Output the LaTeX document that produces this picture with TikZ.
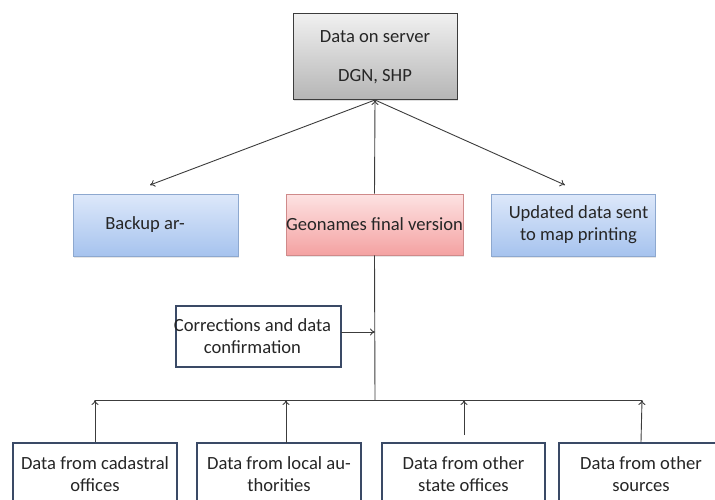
\documentclass[tikz,border=0pt]{standalone}
\usepackage{fontspec}
\setmainfont{Carlito}
\usetikzlibrary{shadows,arrows.meta}
\definecolor{linegray}{HTML}{3C3C3C}
\definecolor{darkframe}{HTML}{3A4A66}
\definecolor{bluetop}{HTML}{DDE8FA}
\definecolor{bluebot}{HTML}{A6C3EE}
\definecolor{blueframe}{HTML}{8DA8CF}
\definecolor{pinktop}{HTML}{FDE2E2}
\definecolor{pinkbot}{HTML}{F4A2A2}
\definecolor{pinkframe}{HTML}{CF8A8A}
\definecolor{graytop}{HTML}{F0F0F0}
\definecolor{graybot}{HTML}{B5B5B5}
\tikzset{
  txt/.style={font=\fontsize{18.6}{22}\selectfont, text=black!85},
  box/.style={txt, rectangle, inner sep=0pt, align=center},
  servbox/.style={box, draw=linegray, line width=1pt, top color=graytop, bottom color=graybot,
    drop shadow={opacity=0.25, shadow xshift=1pt, shadow yshift=-1.5pt}},
  bluebox/.style={box, draw=blueframe, line width=0.8pt, top color=bluetop, bottom color=bluebot,
    drop shadow={opacity=0.2, shadow xshift=1pt, shadow yshift=-1.5pt}},
  pinkbox/.style={box, draw=pinkframe, line width=0.8pt, top color=pinktop, bottom color=pinkbot,
    drop shadow={opacity=0.2, shadow xshift=1pt, shadow yshift=-1.5pt}},
  srcbox/.style={box, draw=darkframe, line width=2.4pt, fill=white},
  conn/.style={draw=linegray, line width=0.9pt},
  arr/.style={conn, -{To[length=5pt,width=7pt]}},
}
\begin{document}
\begin{tikzpicture}[x=1pt,y=-1pt]
\useasboundingbox (0,0) rectangle (715,500);
\clip (0,0) rectangle (715,500);

% top
\node[servbox, minimum width=164pt, minimum height=86pt] (server) at (375,57) {Data on server\\[17pt]DGN, SHP};

% middle row
\node[bluebox, minimum width=165pt, minimum height=62pt] (backup) at (155.5,225) {};
\node[txt, anchor=center] (backuptxt) at (145,225) {Backup ar-};
\node[pinkbox, minimum width=177pt, minimum height=61pt] (geo) at (374.5,224.5) {Geonames final version};
\node[bluebox, minimum width=164pt, minimum height=62pt] (upd) at (573,225) {\hspace*{11pt}Updated data sent\\\hspace*{11pt}to map printing};

\coordinate (apex) at (375,100);
\coordinate (tipL) at (150,185);
\coordinate (tipR) at (565,185);
\draw[arr] (apex) -- (tipL);
\draw[arr] (apex) -- (tipR);
\draw[arr] (geo.north) -- (apex);

% corrections
\node[srcbox, line width=2pt, minimum width=165pt, minimum height=61pt] (corr) at (258.5,336.5) {\hspace*{-12pt}Corrections and data\\\hspace*{-12pt}confirmation};
\coordinate (corrtip) at (375,332);
\coordinate (corrstart) at (341,332);
\draw[arr] (corrstart) -- (corrtip);

% trunk and bus
\coordinate (busmid) at (375,400);
\coordinate (busL) at (95,400);
\coordinate (busR) at (642,400);
\draw[conn] (geo.south) -- (busmid);
\draw[conn] (busL) -- (busR);

% bottom sources
\node[srcbox, minimum width=164pt, minimum height=62pt] (s1) at (95,474) {Data from cadastral\\offices};
\node[srcbox, minimum width=164pt, minimum height=62pt] (s2) at (279,474) {Data from local au-\\thorities};
\node[srcbox, minimum width=163pt, minimum height=62pt] (s3) at (463.5,474) {Data from other\\state offices};
\node[srcbox, minimum width=164pt, minimum height=62pt] (s4) at (641,474) {Data from other\\sources};

\coordinate (b1) at (95,400);
\coordinate (b2) at (286,400);
\coordinate (b3) at (464,400);
\coordinate (b4) at (642,400);
\coordinate (s2top) at (286,443);
\coordinate (s3top) at (464,435);
\draw[arr] (s1.north) -- (b1);
\draw[arr] (s2top) -- (b2);
\draw[arr] (s3top) -- (b3);
\draw[arr] (s4.north) -- (b4);
\end{tikzpicture}
\end{document}
